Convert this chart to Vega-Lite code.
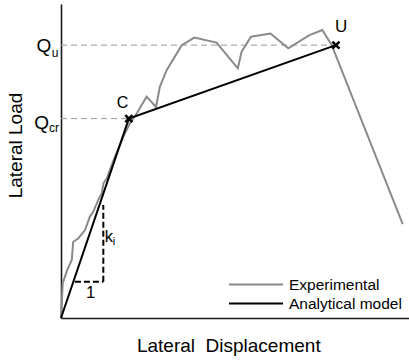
{
  "$schema": "https://vega.github.io/schema/vega-lite/v6.json",
  "width": 348,
  "height": 314,
  "autosize": {"type": "none"},
  "padding": {"left": 61, "top": 4, "right": 0, "bottom": 42},
  "background": "white",
  "config": {"view": {"stroke": null}, "font": "Liberation Sans"},
  "datasets": {
    "curves": [
      {"series": "Experimental", "i": 0, "x": 0, "y": 0},
      {"series": "Experimental", "i": 1, "x": 0.5, "y": 11.1},
      {"series": "Experimental", "i": 2, "x": 1.15, "y": 13.2},
      {"series": "Experimental", "i": 3, "x": 1.8, "y": 15.3},
      {"series": "Experimental", "i": 4, "x": 3.1, "y": 18.5},
      {"series": "Experimental", "i": 5, "x": 3.5, "y": 24.2},
      {"series": "Experimental", "i": 6, "x": 5.0, "y": 25.4},
      {"series": "Experimental", "i": 7, "x": 6.9, "y": 28.0},
      {"series": "Experimental", "i": 8, "x": 8.3, "y": 32.3},
      {"series": "Experimental", "i": 9, "x": 9.3, "y": 33.9},
      {"series": "Experimental", "i": 10, "x": 10.7, "y": 37.6},
      {"series": "Experimental", "i": 11, "x": 11.7, "y": 39.7},
      {"series": "Experimental", "i": 12, "x": 12.2, "y": 42.9},
      {"series": "Experimental", "i": 13, "x": 13.2, "y": 44.6},
      {"series": "Experimental", "i": 14, "x": 15.5, "y": 51.4},
      {"series": "Experimental", "i": 15, "x": 17.9, "y": 57.7},
      {"series": "Experimental", "i": 16, "x": 19.8, "y": 62.0},
      {"series": "Experimental", "i": 17, "x": 21.8, "y": 65.2},
      {"series": "Experimental", "i": 18, "x": 23.0, "y": 67.5},
      {"series": "Experimental", "i": 19, "x": 24.6, "y": 70.5},
      {"series": "Experimental", "i": 20, "x": 27.3, "y": 67.2},
      {"series": "Experimental", "i": 21, "x": 28.4, "y": 73.6},
      {"series": "Experimental", "i": 22, "x": 30.4, "y": 79.0},
      {"series": "Experimental", "i": 23, "x": 34.7, "y": 86.9},
      {"series": "Experimental", "i": 24, "x": 38.3, "y": 89.3},
      {"series": "Experimental", "i": 25, "x": 44.7, "y": 87.7},
      {"series": "Experimental", "i": 26, "x": 50.8, "y": 79.5},
      {"series": "Experimental", "i": 27, "x": 51.9, "y": 84.8},
      {"series": "Experimental", "i": 28, "x": 54.6, "y": 89.6},
      {"series": "Experimental", "i": 29, "x": 60.2, "y": 90.6},
      {"series": "Experimental", "i": 30, "x": 65.3, "y": 85.9},
      {"series": "Experimental", "i": 31, "x": 71.4, "y": 90.1},
      {"series": "Experimental", "i": 32, "x": 75.1, "y": 91.7},
      {"series": "Experimental", "i": 33, "x": 77.8, "y": 86.9},
      {"series": "Experimental", "i": 34, "x": 98.2, "y": 29.9},
      {"series": "Analytical model", "i": 0, "x": 0, "y": 0},
      {"series": "Analytical model", "i": 1, "x": 19.5, "y": 63.5},
      {"series": "Analytical model", "i": 2, "x": 79.0, "y": 86.9}
    ],
    "refs": [
      {"name": "Qcr", "x": 0, "x2": 19.5, "y": 63.5},
      {"name": "Qu", "x": 0, "x2": 79.0, "y": 86.9}
    ],
    "slope": [
      {"part": "rise", "x": 12.16, "x2": 12.16, "y": 11.56, "y2": 36.0},
      {"part": "run", "x": 4.0, "x2": 12.16, "y": 11.56, "y2": 11.56}
    ],
    "points": [
      {"name": "C", "x": 19.5, "y": 63.5},
      {"name": "U", "x": 79.0, "y": 86.9}
    ]
  },
  "layer": [
    {
      "data": {"name": "refs"},
      "mark": {"type": "rule", "stroke": "#9a9a9a", "strokeWidth": 1, "strokeDash": [6, 4]},
      "encoding": {
        "x": {"field": "x", "type": "quantitative"},
        "x2": {"field": "x2"},
        "y": {"field": "y", "type": "quantitative"}
      }
    },
    {
      "data": {"name": "curves"},
      "mark": {"type": "line", "strokeWidth": 2},
      "encoding": {
        "x": {
          "field": "x", "type": "quantitative",
          "scale": {"domain": [0, 100], "nice": false, "zero": true},
          "axis": {
            "title": "Lateral\u00a0 Displacement",
            "labels": false, "ticks": false, "grid": false,
            "domainColor": "#1a1a1a", "domainWidth": 1.6,
            "titleFont": "Liberation Sans", "titleFontSize": 19, "titleFontWeight": "normal", "titleColor": "#000",
            "titleX": 167.3, "titleY": 33.7, "titleBaseline": "alphabetic", "titleAlign": "center"
          }
        },
        "y": {
          "field": "y", "type": "quantitative",
          "scale": {"domain": [0, 100], "nice": false, "zero": true},
          "axis": {
            "title": "Lateral Load",
            "labels": false, "ticks": false, "grid": false,
            "domainColor": "#1a1a1a", "domainWidth": 1.6,
            "titleFont": "Liberation Sans", "titleFontSize": 19, "titleFontWeight": "normal", "titleColor": "#000",
            "titleX": -46, "titleY": 141, "titleAngle": 270, "titleAlign": "center", "titleBaseline": "middle"
          }
        },
        "color": {
          "field": "series", "type": "nominal",
          "scale": {"domain": ["Experimental", "Analytical model"], "range": ["#8a8a8a", "#000000"]},
          "legend": {
            "title": null, "orient": "none", "legendX": 167, "legendY": 272.5,
            "direction": "vertical",
            "symbolType": "stroke", "symbolSize": 2916, "symbolStrokeWidth": 2,
            "labelFont": "Liberation Sans", "labelFontSize": 15.5, "labelColor": "#000",
            "labelOffset": 5, "clipHeight": 16, "rowPadding": 2, "padding": 0
          }
        },
        "order": {"field": "i", "type": "quantitative"}
      }
    },
    {
      "data": {"name": "slope"},
      "mark": {"type": "rule", "stroke": "#000", "strokeWidth": 2, "strokeDash": [6, 3]},
      "encoding": {
        "x": {"field": "x", "type": "quantitative"},
        "x2": {"field": "x2"},
        "y": {"field": "y", "type": "quantitative"},
        "y2": {"field": "y2"}
      }
    },
    {
      "data": {"name": "points"},
      "mark": {"type": "point", "shape": "M-1,-1L1,1M1,-1L-1,1", "filled": false, "stroke": "#000", "strokeWidth": 2.5, "size": 50, "opacity": 1},
      "encoding": {
        "x": {"field": "x", "type": "quantitative"},
        "y": {"field": "y", "type": "quantitative"}
      }
    },
    {
      "data": {"values": [{"label": "C", "x": 19.5, "y": 63.5}]},
      "mark": {"type": "text", "font": "Liberation Sans", "fontSize": 16, "align": "center", "baseline": "alphabetic", "dx": -6.4, "dy": -10.6, "color": "#000"},
      "encoding": {"x": {"field": "x", "type": "quantitative"}, "y": {"field": "y", "type": "quantitative"}, "text": {"field": "label"}}
    },
    {
      "data": {"values": [{"label": "U", "x": 79.0, "y": 86.9}]},
      "mark": {"type": "text", "font": "Liberation Sans", "fontSize": 17, "align": "center", "baseline": "alphabetic", "dx": 5.3, "dy": -13.4, "color": "#000"},
      "encoding": {"x": {"field": "x", "type": "quantitative"}, "y": {"field": "y", "type": "quantitative"}, "text": {"field": "label"}}
    },
    {
      "data": {"values": [{"label": "Q", "x": 0, "y": 86.9}]},
      "mark": {"type": "text", "font": "Liberation Sans", "fontSize": 19, "align": "center", "baseline": "alphabetic", "dx": -17.2, "dy": 6.4, "color": "#000"},
      "encoding": {"x": {"field": "x", "type": "quantitative"}, "y": {"field": "y", "type": "quantitative"}, "text": {"field": "label"}}
    },
    {
      "data": {"values": [{"label": "u", "x": 0, "y": 86.9}]},
      "mark": {"type": "text", "font": "Liberation Sans", "fontSize": 12, "align": "left", "baseline": "alphabetic", "dx": -9.3, "dy": 11.6, "color": "#000"},
      "encoding": {"x": {"field": "x", "type": "quantitative"}, "y": {"field": "y", "type": "quantitative"}, "text": {"field": "label"}}
    },
    {
      "data": {"values": [{"label": "Q", "x": 0, "y": 63.5}]},
      "mark": {"type": "text", "font": "Liberation Sans", "fontSize": 19, "align": "center", "baseline": "alphabetic", "dx": -19.3, "dy": 9.9, "color": "#000"},
      "encoding": {"x": {"field": "x", "type": "quantitative"}, "y": {"field": "y", "type": "quantitative"}, "text": {"field": "label"}}
    },
    {
      "data": {"values": [{"label": "cr", "x": 0, "y": 63.5}]},
      "mark": {"type": "text", "font": "Liberation Sans", "fontSize": 12, "align": "left", "baseline": "alphabetic", "dx": -12, "dy": 13.1, "color": "#000"},
      "encoding": {"x": {"field": "x", "type": "quantitative"}, "y": {"field": "y", "type": "quantitative"}, "text": {"field": "label"}}
    },
    {
      "data": {"values": [{"label": "k", "x": 12.16, "y": 11.56}]},
      "mark": {"type": "text", "font": "Liberation Sans", "fontSize": 16.5, "align": "left", "baseline": "alphabetic", "dx": 1.5, "dy": -40, "color": "#000"},
      "encoding": {"x": {"field": "x", "type": "quantitative"}, "y": {"field": "y", "type": "quantitative"}, "text": {"field": "label"}}
    },
    {
      "data": {"values": [{"label": "i", "x": 12.16, "y": 11.56}]},
      "mark": {"type": "text", "font": "Liberation Sans", "fontSize": 11, "align": "left", "baseline": "alphabetic", "dx": 9.5, "dy": -36.6, "color": "#000"},
      "encoding": {"x": {"field": "x", "type": "quantitative"}, "y": {"field": "y", "type": "quantitative"}, "text": {"field": "label"}}
    },
    {
      "data": {"values": [{"label": "1", "x": 12.16, "y": 11.56}]},
      "mark": {"type": "text", "font": "Liberation Sans", "fontSize": 16.5, "align": "center", "baseline": "alphabetic", "dx": -12.6, "dy": 16.6, "color": "#000"},
      "encoding": {"x": {"field": "x", "type": "quantitative"}, "y": {"field": "y", "type": "quantitative"}, "text": {"field": "label"}}
    }
  ]
}
